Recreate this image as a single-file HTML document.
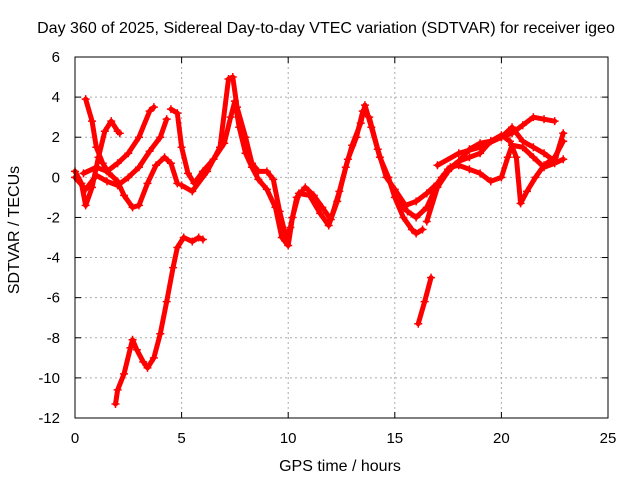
<!DOCTYPE html>
<html><head><meta charset="utf-8"><style>
body{margin:0;background:#fff;}
svg{display:block;font-family:"Liberation Sans",sans-serif;}
</style></head><body>
<svg id="chart" width="640" height="480" viewBox="0 0 640 480" xmlns="http://www.w3.org/2000/svg">
<text x="326" y="33" font-size="16" text-anchor="middle">Day 360 of 2025, Sidereal Day-to-day VTEC variation (SDTVAR) for receiver igeo</text>
<text x="340" y="471" font-size="16" text-anchor="middle">GPS time / hours</text>
<text transform="translate(19,230) rotate(-90)" font-size="16" text-anchor="middle">SDTVAR / TECUs</text>
<g id="grid"></g>
<g id="axes"></g>
<g id="series"></g>
<rect x="75" y="57" width="533" height="361" fill="none" stroke="#000" stroke-width="1"/>
</svg>
<script>
const xTicks=[0,5,10,15,20,25];
const yTicks=[6,4,2,0,-2,-4,-6,-8,-10,-12];
const sA=[[1.9,-11.3],[2.0,-10.6],[2.3,-9.8],[2.6,-8.5],[2.7,-8.1],[2.9,-8.6],[3.2,-9.2],[3.4,-9.5],[3.7,-9.0],[4.0,-7.8],[4.3,-6.2],[4.6,-4.5],[4.8,-3.5],[5.1,-3.0],[5.5,-3.2],[5.8,-3.0],[6.0,-3.1]];
const sB=[[16.1,-7.3],[16.4,-6.2],[16.7,-5.0]];
const sC=[[0.5,3.9],[0.8,2.8],[1.0,1.5],[1.3,0.7],[1.6,0.2],[2.0,-0.2],[2.3,-0.9],[2.7,-1.5],[3.0,-1.4],[3.4,-0.3],[3.8,0.6],[4.2,1.0],[4.5,0.7],[4.8,-0.3]];
const sD=[[0,0.3],[0.3,-0.3],[0.5,-1.4],[0.8,-0.5],[1.1,1.0],[1.4,2.3],[1.7,2.8],[2.0,2.3],[2.1,2.2]];
const sE=[[0.4,0.2],[1.0,0.5],[1.5,0.3],[2.0,0.7],[2.5,1.2],[3.0,2.0],[3.5,3.3],[3.7,3.5]];
const sF=[[0,0],[0.5,-0.6],[1.0,0.1],[1.5,-0.2],[2.0,-0.4],[2.5,0.0],[3.0,0.5],[3.5,1.3],[4.0,2.0],[4.3,2.9]];
const sG=[[4.5,3.4],[4.8,3.2],[5.0,1.5],[5.3,0.2],[5.6,-0.3],[6.0,0.3],[6.5,0.9],[7.0,1.7],[7.3,3.0],[7.5,3.8],[7.7,2.5],[8.0,1.2],[8.3,0.5],[8.6,-0.1],[9.0,-0.6],[9.4,-1.5],[9.7,-3.0],[10.0,-3.4],[10.2,-2.0],[10.5,-0.8],[11.0,-0.9],[11.5,-1.8],[11.9,-2.4],[12.3,-1.2],[12.7,0.5],[13.0,1.6],[13.4,2.7],[13.6,3.6],[13.9,2.5],[14.3,1.0],[14.7,0.0],[15.0,-1.0],[15.4,-2.0],[15.8,-2.6],[16.0,-2.8],[16.3,-2.6]];
const sH=[[5.0,-0.4],[5.5,-0.7],[6.2,0.3],[6.8,1.5],[7.2,4.9],[7.4,5.0],[7.6,3.5],[8.0,2.0],[8.3,0.7],[8.6,0.3],[9.0,0.3],[9.3,-0.1],[9.6,-1.7],[9.9,-3.0],[10.1,-2.5],[10.4,-1.0],[10.8,-0.5],[11.2,-0.9],[11.6,-1.5],[12.0,-2.1],[12.4,-0.7],[12.8,0.9],[13.2,2.0],[13.5,3.3],[13.8,3.0],[14.2,1.4],[14.6,0.0],[15.0,-0.6],[15.5,-1.4],[16.0,-1.2],[16.5,-0.8],[17.0,-0.3],[17.5,0.4],[18.0,0.8],[18.5,1.0],[19.0,1.2],[19.5,1.8],[20.0,2.0],[20.5,2.2],[21.0,2.6],[21.5,3.0],[22.0,2.9],[22.5,2.8]];
const sI=[[15.2,-1.3],[15.6,-1.7],[16.0,-2.0],[16.5,-1.5],[16.8,-0.8],[17.2,0.0],[17.6,0.5],[18.0,0.6],[18.5,0.4],[19.0,0.2],[19.5,-0.2],[20.0,0.0],[20.3,1.0],[20.5,1.6],[21.0,1.5],[21.5,1.0],[22.0,0.5],[22.5,0.7],[22.9,0.9]];
const sJ=[[16.5,-2.2],[17.0,-0.5],[17.5,0.3],[18.0,0.8],[18.5,1.4],[19.0,1.7],[19.5,1.8],[20.0,2.1],[20.4,1.8],[20.7,1.0],[20.9,-1.3],[21.2,-0.7],[21.6,0.0],[22.0,0.6],[22.5,1.0],[22.9,1.8]];
const sK=[[17.0,0.6],[18.0,1.2],[19.0,1.5],[20.0,2.0],[20.5,2.5],[21.0,1.8],[21.5,1.5],[22.0,1.2],[22.5,0.8],[22.9,2.2]];
const allSeries=[sA,sB,sC,sD,sE,sF,sG,sH,sI,sJ,sK];
const NS="http://www.w3.org/2000/svg";
const X0=75,X1=608,Y0=418,Y1=57;
function xs(v){return X0+(v-0)/(25-0)*(X1-X0);}
function ys(v){return Y0-(v+12)/(18)*(Y0-Y1);}
const grid=document.getElementById('grid'),axes=document.getElementById('axes'),ser=document.getElementById('series');
function mk(tag,attrs,parent){const e=document.createElementNS(NS,tag);for(const k in attrs)e.setAttribute(k,attrs[k]);parent.appendChild(e);return e;}
xTicks.forEach(t=>{const x=xs(t);
 if(t>0&&t<25){const g=mk('line',{x1:x,x2:x,y1:Y1,y2:Y0,stroke:'#aaa','stroke-dasharray':'2,3'},grid);
 
 }
 const l=mk('line',{x1:x,x2:x,y1:Y0,y2:Y0-6,stroke:'#000'},axes);
 
 
 const l2=mk('line',{x1:x,x2:x,y1:Y1,y2:Y1+6,stroke:'#000'},axes);
 
 
 const tx=mk('text',{x:x,y:Y0+25,'font-size':15,'text-anchor':'middle'},axes);tx.textContent=t;
 
 
});
yTicks.forEach(t=>{const y=ys(t);
 if(t>-12&&t<6){const g=mk('line',{x1:X0,x2:X1,y1:y,y2:y,stroke:'#aaa','stroke-dasharray':'2,3'},grid);
 
 }
 const l=mk('line',{x1:X0,x2:X0+6,y1:y,y2:y,stroke:'#000'},axes);
 
 
 const l2=mk('line',{x1:X1,x2:X1-6,y1:y,y2:y,stroke:'#000'},axes);
 
 
 const tx=mk('text',{x:X0-15,y:y+5,'font-size':15,'text-anchor':'end'},axes);tx.textContent=t;
 
 
});
allSeries.forEach((s,i)=>{
 const pl=mk('polyline',{points:s.map(p=>xs(p[0])+','+ys(p[1])).join(' '),fill:'none',stroke:'#f00','stroke-width':5,'stroke-linejoin':'round','stroke-linecap':'round'},ser);
 
 
 s.forEach(p=>{const x=xs(p[0]),y=ys(p[1]);
  const m=mk('path',{d:`M${x-4},${y}H${x+4}M${x},${y-4}V${y+4}`,stroke:'#f00','stroke-width':1.5},ser);
  
  
 });
});
</script>
</body></html>
